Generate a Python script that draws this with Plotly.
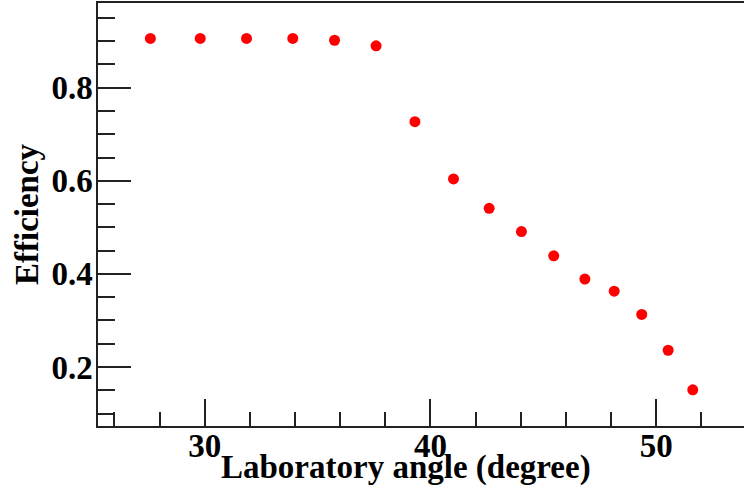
import plotly.graph_objects as go

# Detection efficiency versus laboratory angle
angle_deg = [27.59, 29.80, 31.85, 33.90, 35.75, 37.59, 39.31, 41.02,
             42.60, 44.03, 45.46, 46.84, 48.14, 49.36, 50.53, 51.62]
efficiency = [0.906, 0.906, 0.906, 0.906, 0.902, 0.890, 0.727, 0.604,
              0.541, 0.491, 0.439, 0.389, 0.363, 0.313, 0.236, 0.151]

x_title = "Laboratory angle (degree)"
y_title = "Efficiency"

FONT = "Liberation Serif"
FSIZE = 33
AXIS_COLOR = "#222222"

fig = go.Figure(
    go.Scatter(
        x=angle_deg,
        y=efficiency,
        mode="markers",
        marker=dict(color="#ff0000", size=11, line=dict(width=0)),
        showlegend=False,
    )
)

fig.update_layout(
    width=744,
    height=491,
    margin=dict(l=98, r=0, t=3, b=65),
    paper_bgcolor="white",
    plot_bgcolor="white",
    font=dict(family=FONT, size=FSIZE, color="black", weight="bold"),
    xaxis=dict(
        range=[25.27, 53.89],
        tick0=0,
        dtick=10,
        ticks="inside",
        ticklen=27,
        tickwidth=1.5,
        tickcolor=AXIS_COLOR,
        showline=True,
        linecolor=AXIS_COLOR,
        linewidth=1.5,
        mirror=True,
        showgrid=False,
        zeroline=False,
        ticklabelstandoff=-10,
        tickfont=dict(family=FONT, size=FSIZE, weight="bold"),
        minor=dict(dtick=2, tick0=0, ticks="inside", ticklen=14,
                   tickwidth=1.5, tickcolor=AXIS_COLOR, showgrid=False),
    ),
    yaxis=dict(
        range=[0.0733, 0.982],
        tick0=0,
        dtick=0.2,
        tickformat=".1f",
        ticks="inside",
        ticklen=33,
        tickwidth=1.5,
        tickcolor=AXIS_COLOR,
        showline=True,
        linecolor=AXIS_COLOR,
        linewidth=1.5,
        showgrid=False,
        zeroline=False,
        ticklabelstandoff=-3,
        tickfont=dict(family=FONT, size=FSIZE, weight="bold"),
        minor=dict(dtick=0.05, tick0=0, ticks="inside", ticklen=17,
                   tickwidth=1.5, tickcolor=AXIS_COLOR, showgrid=False),
    ),
    annotations=[
        dict(text=x_title, xref="paper", yref="paper",
             x=(406 - 98) / 646, y=-(468 - 426) / 423,
             xanchor="center", yanchor="middle", showarrow=False,
             font=dict(family=FONT, size=FSIZE, weight="bold")),
        dict(text=y_title, xref="paper", yref="paper",
             x=-(98 - 27) / 646, y=(426 - 214) / 423,
             xanchor="center", yanchor="middle", textangle=-90,
             showarrow=False,
             font=dict(family=FONT, size=FSIZE, weight="bold")),
    ],
)

fig.write_html("out.html")
